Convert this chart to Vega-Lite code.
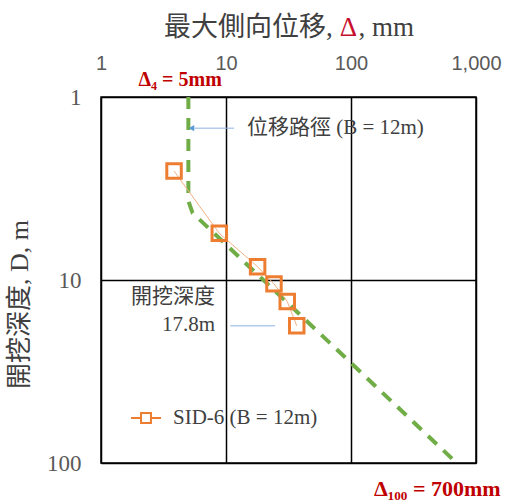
{
  "$schema": "https://vega.github.io/schema/vega-lite/v6.json",
  "width": 375,
  "height": 366,
  "autosize": {"type": "none"},
  "padding": {"left": 101, "top": 97, "right": 39, "bottom": 39},
  "background": "white",
  "config": {
    "view": {"stroke": "black", "strokeWidth": 1.5},
    "font": "Liberation Serif, Noto Sans CJK TC"
  },
  "datasets": {
    "path": [
      {"x": 5, "y": 1, "o": 0},
      {"x": 5, "y": 3.7, "o": 1},
      {"x": 5.4, "y": 4.3, "o": 2},
      {"x": 700, "y": 100, "o": 3}
    ],
    "sid": [
      {"x": 3.84, "y": 2.54, "series": "SID-6 (B = 12m)"},
      {"x": 8.84, "y": 5.56, "series": "SID-6 (B = 12m)"},
      {"x": 17.9, "y": 8.46, "series": "SID-6 (B = 12m)"},
      {"x": 24.2, "y": 10.5, "series": "SID-6 (B = 12m)"},
      {"x": 30.9, "y": 13.1, "series": "SID-6 (B = 12m)"},
      {"x": 36.8, "y": 17.8, "series": "SID-6 (B = 12m)"}
    ],
    "leaders": [
      {"x": 11.6, "x2": 5.6, "y": 1.48},
      {"x": 10.8, "x2": 24.7, "y": 17.8}
    ],
    "arrow": [{"x": 5.3, "y": 1.48}],
    "leftNotes": [{"x": 14.7, "y": 1.48, "text": "位移路徑 (B = 12m)"}],
    "rightNotes": [
      {"x": 8.17, "y": 12.4, "text": "開挖深度"},
      {"x": 8.17, "y": 17.6, "text": "17.8m"}
    ],
    "deltaSmall": [
      {"x": 4.3, "y": 0.81, "text": "Δ₄ =   5mm"}
    ],
    "deltaBig": [
      {"x": 490, "y": 139, "text": "Δ₁₀₀ = 700mm"}
    ],
    "titleDelta": [
      {"x": 95.5, "y": 0.42, "text": "Δ"}
    ]
  },
  "encoding": {
    "x": {
      "field": "x",
      "type": "quantitative",
      "scale": {"type": "log", "domain": [1, 1000]},
      "axis": {
        "orient": "top",
        "title": "最大側向位移, \u2002\u2009, mm",
        "titleFont": "Liberation Serif, Noto Sans CJK TC",
        "titleFontSize": 27,
        "titleFontWeight": "normal",
        "titleColor": "#404040",
        "titlePadding": 12,
        "values": [1, 10, 100, 1000],
        "format": ",",
        "labelFont": "Liberation Sans",
        "labelFontSize": 20,
        "labelColor": "#595959",
        "labelPadding": 24,
        "labelFlush": false,
        "ticks": false,
        "domain": false,
        "grid": true,
        "gridColor": "black",
        "gridWidth": 1.5,
        "gridOpacity": 1
      }
    },
    "y": {
      "field": "y",
      "type": "quantitative",
      "scale": {"type": "log", "domain": [1, 100], "reverse": true},
      "axis": {
        "orient": "left",
        "title": "開挖深度,   D, m",
        "titleFont": "Liberation Serif, Noto Sans CJK TC",
        "titleFontSize": 26,
        "titleFontWeight": "normal",
        "titleColor": "#404040",
        "titlePadding": 14,
        "titleY": 207,
        "values": [1, 10, 100],
        "labelFont": "Liberation Serif",
        "labelFontSize": 23,
        "labelColor": "#595959",
        "labelPadding": 20,
        "labelFlush": false,
        "ticks": false,
        "domain": false,
        "grid": true,
        "gridColor": "black",
        "gridWidth": 1.5,
        "gridOpacity": 1
      }
    }
  },
  "layer": [
    {
      "data": {"name": "path"},
      "mark": {"type": "line", "color": "#70AD47", "strokeWidth": 4, "strokeDash": [12, 9]},
      "encoding": {"order": {"field": "o", "type": "quantitative"}}
    },
    {
      "data": {"name": "sid"},
      "mark": {"type": "line", "color": "#F4B183", "strokeWidth": 1}
    },
    {
      "data": {"name": "sid"},
      "mark": {"type": "point", "shape": "square", "size": 210, "strokeWidth": 3, "filled": false, "opacity": 1},
      "encoding": {
        "color": {
          "field": "series",
          "type": "nominal",
          "scale": {"range": ["#ED7D31"]},
          "legend": {
            "title": null,
            "orient": "none",
            "legendX": 29,
            "legendY": 305,
            "symbolType": "M-1,0H-0.33M0.33,0H1M-0.33,-0.33H0.33V0.33H-0.33Z",
            "symbolSize": 900,
            "symbolStrokeWidth": 2,
            "labelFont": "Liberation Serif",
            "labelFontSize": 21,
            "labelColor": "#404040",
            "labelOffset": 11,
            "padding": 0
          }
        }
      }
    },
    {
      "data": {"name": "leaders"},
      "mark": {"type": "rule", "color": "#8EB4E3", "strokeWidth": 1},
      "encoding": {"x2": {"field": "x2"}}
    },
    {
      "data": {"name": "arrow"},
      "mark": {"type": "point", "shape": "triangle-left", "size": 40, "filled": true, "color": "#5B9BD5", "opacity": 1}
    },
    {
      "data": {"name": "leftNotes"},
      "mark": {"type": "text", "align": "left", "baseline": "middle", "fontSize": 21, "color": "#404040"},
      "encoding": {"text": {"field": "text"}}
    },
    {
      "data": {"name": "rightNotes"},
      "mark": {"type": "text", "align": "right", "baseline": "middle", "fontSize": 21, "color": "#404040"},
      "encoding": {"text": {"field": "text"}}
    },
    {
      "data": {"name": "deltaSmall"},
      "mark": {"type": "text", "align": "center", "baseline": "middle", "fontSize": 20, "fontWeight": "bold", "color": "#C00000"},
      "encoding": {"text": {"field": "text"}}
    },
    {
      "data": {"name": "deltaBig"},
      "mark": {"type": "text", "align": "center", "baseline": "middle", "fontSize": 22, "fontWeight": "bold", "color": "#C00000"},
      "encoding": {"text": {"field": "text"}}
    },
    {
      "data": {"name": "titleDelta"},
      "mark": {"type": "text", "align": "center", "baseline": "middle", "fontSize": 27, "color": "#C8102E", "font": "Liberation Serif"},
      "encoding": {"text": {"field": "text"}}
    }
  ]
}
